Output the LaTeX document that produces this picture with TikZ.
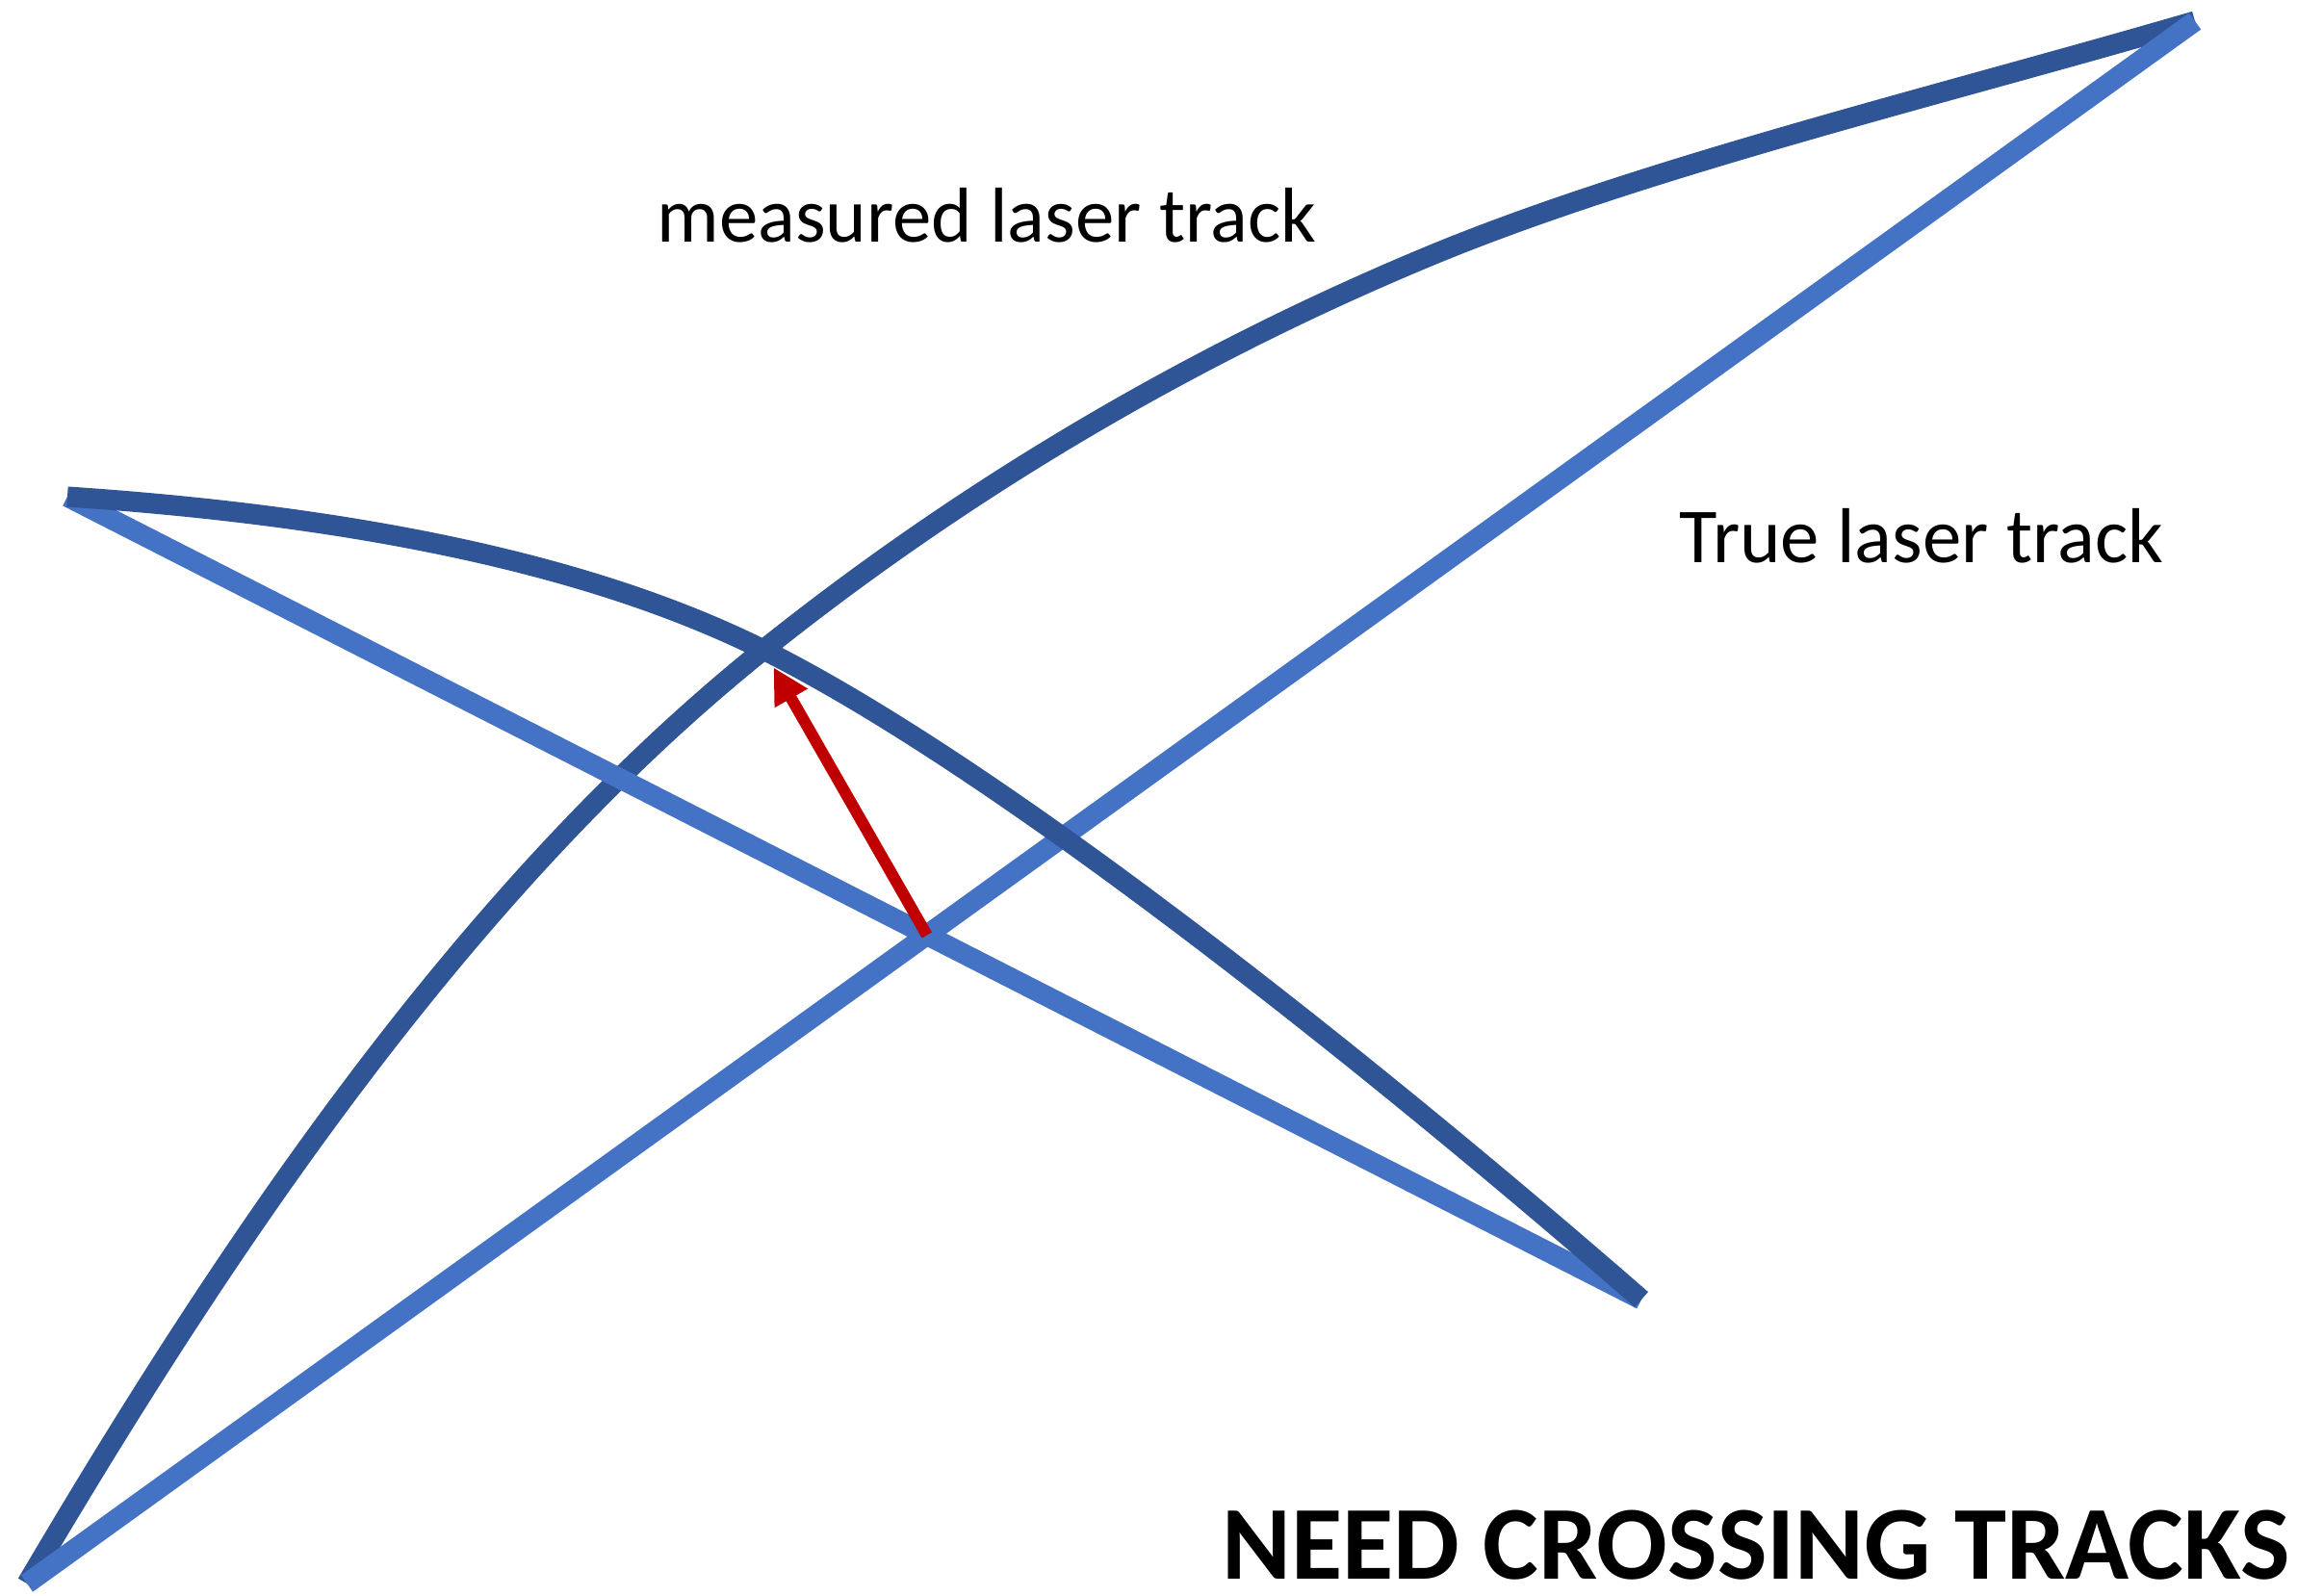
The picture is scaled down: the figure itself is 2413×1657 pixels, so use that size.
\documentclass[tikz,border=0pt]{standalone}
\usepackage{fontspec}
\setmainfont{Carlito}
\usetikzlibrary{arrows.meta}
\definecolor{darkblue}{HTML}{2F5597}
\definecolor{lightblue}{HTML}{4472C4}
\definecolor{arrowred}{HTML}{C00000}
\tikzset{
  measured/.style={draw=darkblue, line width=6pt},
  truetrack/.style={draw=lightblue, line width=6pt},
  shift arrow/.style={draw=arrowred, line width=3.4pt, -{Triangle[length=10.5pt,width=10.5pt]}},
  label text/.style={font=\fontsize{23}{27}\selectfont, inner sep=0pt},
  title text/.style={font=\fontsize{31}{36}\selectfont\bfseries, inner sep=0pt}
}
\begin{document}
\begin{tikzpicture}[x=0.01cm, y=-0.01cm]
\useasboundingbox (0,0) rectangle (2413,1657);
\coordinate (A) at (28,1645);
\coordinate (B) at (2280,22);
\coordinate (C) at (70,516);
\coordinate (D) at (1705,1350);
\coordinate (X) at (793,675);
\coordinate (P) at (1492,263);
\coordinate (Y) at (intersection of A--B and C--D);
% measured track 1
\draw[measured] (A) .. controls (231,1300) and (481,925) .. (X)
                    .. controls (1004,506) and (1242,366) .. (P)
                    .. controls (1714,172) and (2016,99) .. (B);
% true track 1
\draw[truetrack] (A) -- (B);
% true track 2
\draw[truetrack] (C) -- (D);
% measured track 2
\draw[measured] (C) .. controls (369,536) and (614,586) .. (X)
                    .. controls (1061,809) and (1479,1153) .. (D);
% shift arrow
\draw[shift arrow, shorten >=6pt] (Y) -- (X);
\node[label text] (m) at (1025,224) {measured laser track};
\node[label text] (t) at (1996,557) {True laser track};
\node[title text, anchor=base] (n) at (1824,1640) {NEED CROSSING TRACKS};
\end{tikzpicture}
\end{document}
